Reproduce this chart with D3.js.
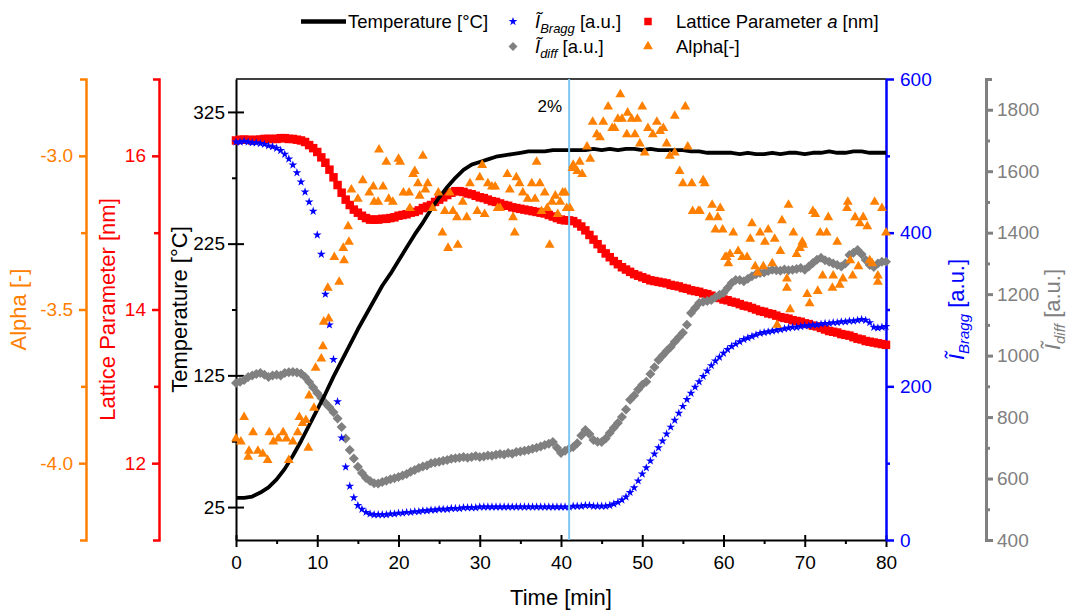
<!DOCTYPE html>
<html>
<head>
<meta charset="utf-8">
<script src="https://cdn.jsdelivr.net/npm/d3@7"></script>
<style>
  html, body { margin: 0; padding: 0; background: #fff; }
  svg { display: block; font-family: "Liberation Sans", Arial, sans-serif; }
</style>
</head>
<body>
<div id="chart"></div>
<script>
(function() {
  // temperature, one value per minute (0..80)
  const temperature = [
    32,32,33,36,40,46,54,64,75,87,
    99,111,124,136,148,160,171,182,193,202,
    212,222,232,241,251,260,268,275,281,285,
    287,289,291,292,293,294,295,295,295,296,
    296,296,296,296,297,296,297,296,297,297,
    296,297,296,296,296,296,295,295,294,294,
    294,294,293,294,293,293,294,293,294,294,
    293,294,294,295,294,294,295,295,294,294,
    294
  ];

  // the other series, one value every 0.5 min (0..80)
  const bragg = [
    518,518,519,518,517,517,516,515,513,512,
    510,507,502,496,488,478,466,453,440,428,
    397,372,320,280,235,180,133,95,70,55,
    45,40,36,34,33,33,33,33,34,34,
    35,35,36,36,37,37,38,38,39,39,
    40,40,40,41,41,41,42,42,42,42,
    43,43,43,43,43,43,43,43,43,43,
    43,43,43,43,43,43,43,43,43,43,
    43,43,43,44,44,44,45,45,44,44,
    44,44,45,47,49,52,56,62,68,77,
    86,94,103,112,120,129,138,147,156,165,
    174,183,191,199,206,213,220,227,233,238,
    243,248,252,255,258,261,263,265,267,269,
    270,271,272,273,274,275,276,277,277,278,
    279,279,280,280,281,282,282,283,283,284,
    284,285,285,286,287,286,283,277,276,277,
    278
  ];

  const diffuse = [
    911,915,921,930,935,940,943,938,930,935,
    938,935,943,946,947,945,942,930,914,896,
    878,862,846,832,816,795,768,730,693,665,
    638,618,602,592,585,584,589,593,598,601,
    605,610,615,622,628,634,639,642,650,652,
    655,658,660,664,666,668,670,668,670,673,
    670,672,675,674,677,680,678,683,681,686,
    688,690,693,697,700,704,709,713,719,700,
    683,690,697,703,715,740,758,745,725,720,
    719,730,748,765,781,800,825,856,870,890,
    905,915,940,962,986,1000,1015,1028,1045,1060,
    1074,1100,1139,1155,1171,1175,1178,1181,1190,1198,
    1204,1220,1236,1246,1246,1242,1250,1258,1265,1269,
    1270,1275,1279,1278,1276,1280,1278,1279,1282,1285,
    1279,1290,1301,1312,1318,1310,1305,1300,1295,1290,
    1300,1327,1335,1344,1330,1311,1295,1288,1300,1305,
    1305
  ];

  const lattice = [
    16.20,16.21,16.21,16.21,16.20,16.21,16.21,16.22,16.22,16.22,
    16.22,16.23,16.23,16.22,16.22,16.21,16.20,16.18,16.14,16.10,
    16.05,15.98,15.91,15.82,15.72,15.62,15.52,15.43,15.36,15.30,
    15.26,15.22,15.19,15.17,15.17,15.17,15.18,15.18,15.19,15.20,
    15.22,15.23,15.24,15.26,15.27,15.29,15.32,15.34,15.36,15.40,
    15.43,15.46,15.49,15.52,15.54,15.54,15.53,15.51,15.50,15.48,
    15.46,15.45,15.43,15.41,15.40,15.38,15.36,15.35,15.33,15.32,
    15.31,15.30,15.29,15.28,15.27,15.26,15.25,15.23,15.21,15.19,
    15.17,15.16,15.16,15.15,15.12,15.08,15.03,14.97,14.91,14.85,
    14.79,14.73,14.68,14.63,14.59,14.55,14.52,14.49,14.46,14.44,
    14.42,14.40,14.38,14.37,14.36,14.35,14.34,14.32,14.31,14.30,
    14.28,14.27,14.25,14.24,14.23,14.21,14.20,14.18,14.16,14.15,
    14.13,14.12,14.10,14.09,14.07,14.05,14.04,14.02,14.00,13.98,
    13.97,13.95,13.94,13.92,13.90,13.89,13.88,13.86,13.85,13.84,
    13.82,13.81,13.79,13.78,13.76,13.74,13.72,13.71,13.70,13.68,
    13.67,13.66,13.64,13.62,13.61,13.59,13.58,13.57,13.56,13.55,
    13.54
  ];

  // alpha is scattered, so [time, alpha] pairs
  const alphaPoints = [
    [0.0,-3.92],[0.6,-3.93],[1.0,-3.85],[1.5,-3.98],[1.6,-3.96],[2.1,-3.90],[2.7,-3.96],[3.3,-3.97],
    [3.9,-3.99],[4.1,-3.90],[4.6,-3.93],[5.2,-3.92],[5.8,-3.90],[6.2,-3.92],[6.5,-3.99],[7.0,-3.93],
    [7.6,-3.90],[7.8,-3.85],[8.2,-3.87],[8.6,-3.86],[8.9,-3.95],[9.0,-3.78],[9.6,-3.82],[9.8,-3.69],
    [10.5,-3.66],[10.7,-3.62],[10.8,-3.54],[11.3,-3.43],[11.4,-3.53],[12.1,-3.33],[12.7,-3.41],[13.2,-3.30],
    [13.3,-3.34],[13.8,-3.23],[13.9,-3.28],[14.2,-3.11],[15.0,-3.14],[15.6,-3.08],[16.4,-3.12],[16.9,-3.10],
    [17.0,-3.15],[17.5,-3.15],[17.6,-2.98],[18.1,-3.10],[18.5,-3.02],[18.8,-3.14],[19.3,-3.15],[20.0,-3.01],
    [20.2,-3.02],[20.6,-3.12],[21.3,-3.12],[21.4,-3.17],[21.8,-3.06],[22.0,-3.05],[22.4,-3.09],[22.6,-3.13],
    [23.0,-3.00],[23.3,-3.11],[23.6,-3.09],[24.2,-3.17],[24.9,-3.12],[25.4,-3.25],[25.7,-3.18],[26.1,-3.30],
    [26.3,-3.12],[26.7,-3.18],[27.2,-3.20],[27.3,-3.29],[27.9,-3.15],[28.4,-3.20],[28.8,-3.09],[29.7,-3.18],
    [30.0,-3.07],[30.3,-3.03],[30.6,-3.19],[31.0,-3.09],[31.5,-3.10],[31.9,-3.10],[32.2,-3.17],[32.5,-3.17],
    [33.4,-3.06],[33.7,-3.11],[34.1,-3.20],[34.3,-3.25],[34.5,-3.07],[34.9,-3.09],[35.3,-3.12],[35.9,-3.14],
    [36.4,-3.09],[36.8,-3.14],[37.0,-3.02],[37.4,-3.09],[37.6,-3.18],[38.0,-3.12],[38.3,-3.17],[38.6,-3.29],
    [38.9,-3.15],[39.3,-3.13],[39.6,-3.19],[39.9,-3.15],[40.2,-3.12],[40.5,-3.12],[40.7,-3.17],[41.1,-3.17],
    [41.4,-3.04],[41.5,-3.03],[42.0,-3.05],[42.3,-3.02],[42.6,-3.06],[43.2,-2.97],[43.6,-3.01],[43.9,-2.89],
    [44.4,-2.93],[44.8,-2.94],[45.2,-2.89],[45.8,-2.84],[46.3,-2.91],[46.6,-2.91],[47.0,-2.88],[47.3,-2.80],
    [47.5,-2.88],[48.1,-2.93],[48.2,-2.86],[48.7,-2.88],[49.1,-2.93],[49.4,-2.88],[49.7,-2.96],[50.0,-2.84],
    [50.3,-2.99],[50.7,-2.91],[51.3,-2.93],[51.8,-2.89],[52.2,-2.92],[52.6,-2.91],[53.0,-2.96],[53.4,-3.00],
    [54.0,-2.87],[54.0,-2.99],[54.6,-3.05],[55.0,-3.09],[55.3,-2.84],[55.6,-2.97],[56.1,-3.09],[56.2,-3.18],
    [56.9,-3.18],[57.1,-3.18],[57.5,-3.08],[57.7,-3.09],[58.3,-3.20],[58.6,-3.16],[59.0,-3.24],[59.3,-3.20],
    [59.6,-3.17],[59.9,-3.24],[60.2,-3.33],[60.4,-3.33],[60.6,-3.35],[60.8,-3.32],[61.2,-3.25],[61.8,-3.31],
    [62.3,-3.33],[62.9,-3.33],[63.3,-3.27],[63.5,-3.22],[63.9,-3.36],[64.2,-3.38],[64.5,-3.25],[64.9,-3.36],
    [65.1,-3.28],[65.5,-3.24],[66.0,-3.35],[66.3,-3.27],[66.6,-3.55],[67.0,-3.31],[67.2,-3.21],[67.8,-3.40],
    [67.8,-3.43],[68.0,-3.16],[68.2,-3.50],[68.6,-3.25],[69.0,-3.32],[69.4,-3.30],[69.7,-3.28],[69.8,-3.29],
    [70.3,-3.45],[70.6,-3.48],[71.0,-3.18],[71.3,-3.19],[71.6,-3.44],[71.9,-3.25],[72.2,-3.39],[72.7,-3.25],
    [72.9,-3.20],[73.4,-3.43],[73.5,-3.39],[74.0,-3.28],[74.3,-3.42],[74.7,-3.40],[75.2,-3.17],[75.3,-3.15],
    [75.6,-3.34],[75.9,-3.39],[76.2,-3.20],[76.6,-3.36],[76.8,-3.22],[77.2,-3.20],[77.7,-3.23],[78.0,-3.34],
    [78.3,-3.35],[78.6,-3.15],[79.0,-3.39],[79.0,-3.41],[79.5,-3.17],[80.0,-3.25]
  ];

  const timeTicks = [0,10,20,30,40,50,60,70,80];
  const timeMinor = [5,15,25,35,45,55,65,75];
  const tempTicks = [25,125,225,325];
  const tempMinor = [75,175,275];
  const braggTicks = [0,200,400,600];
  const braggMinor = [100,300,500];
  const diffTicks = [400,600,800,1000,1200,1400,1600,1800];
  const diffMinor = [500,700,900,1100,1300,1500,1700];
  const latticeTicks = [12,14,16];
  const latticeMinor = [13,15];
  const alphaTicks = [-4.0,-3.5,-3.0];
  const alphaMinor = [-3.75,-3.25];
  const markerTime = 41;

  const seriesTimes = d3.range(0, 80.0001, 0.5);
  const tempTimes = d3.range(0, 80.0001, 1);

  const W = 1071, H = 610;
  const plot = {left: 236, right: 886, top: 79, bottom: 540};
  const orange = "#ff8000", red = "#ff0000", blue = "#0000ff", grey = "#808080";
  const intFmt = d3.format("d");

  const svg = d3.select("#chart").append("svg").attr("width", W).attr("height", H);

  const x = d3.scaleLinear().domain([0, 80]).range([plot.left, plot.right]);
  const yT = d3.scaleLinear().domain([0, 350]).range([plot.bottom, plot.top]);
  const yB = d3.scaleLinear().domain([0, 600]).range([plot.bottom, plot.top]);
  const yD = d3.scaleLinear().domain([400, 1900]).range([plot.bottom, plot.top]);
  const yL = d3.scaleLinear().domain([11, 17]).range([plot.bottom, plot.top]);
  const yA = d3.scaleLinear().domain([-4.25, -2.75]).range([plot.bottom, plot.top]);

  function drawAxis(gen, tx, ty, color, lw, keepDomain) {
    const g = svg.append("g").attr("transform", `translate(${tx},${ty})`).call(gen);
    g.attr("font-family", null).attr("font-size", null);
    if (keepDomain) {
      g.select(".domain").attr("stroke", color).attr("stroke-width", lw);
    } else {
      g.select(".domain").remove();
    }
    g.selectAll(".tick line").attr("stroke", color).attr("stroke-width", lw);
    g.selectAll(".tick text").attr("fill", color).style("font-size", "19px");
    return g;
  }

  // top frame
  svg.append("line")
     .attr("x1", plot.left).attr("x2", plot.right)
     .attr("y1", plot.top).attr("y2", plot.top)
     .attr("stroke", "#000").attr("stroke-width", 1.5);

  // time axis
  drawAxis(d3.axisBottom(x).tickValues(timeTicks).tickSize(7).tickSizeOuter(0).tickPadding(9).tickFormat(intFmt),
           0, plot.bottom, "#000", 2, true);
  drawAxis(d3.axisBottom(x).tickValues(timeTicks).tickSize(-5).tickFormat(""), 0, plot.bottom, "#000", 2, false);
  drawAxis(d3.axisBottom(x).tickValues(timeMinor).tickSize(4).tickFormat(""), 0, plot.bottom, "#000", 2, false);

  // temperature axis
  drawAxis(d3.axisLeft(yT).tickValues(tempTicks).tickSize(8).tickSizeOuter(0).tickPadding(3).tickFormat(intFmt),
           plot.left, 0, "#000", 2, true);
  drawAxis(d3.axisLeft(yT).tickValues(tempTicks).tickSize(-8).tickFormat(""), plot.left, 0, "#000", 2, false);
  drawAxis(d3.axisLeft(yT).tickValues(tempMinor).tickSize(4).tickFormat(""), plot.left, 0, "#000", 2, false);

  // lattice axis
  drawAxis(d3.axisLeft(yL).tickValues(latticeTicks).tickSize(7).tickSizeOuter(6).tickPadding(6).tickFormat(intFmt),
           159, 0, red, 2.5, true);
  drawAxis(d3.axisLeft(yL).tickValues(latticeMinor).tickSize(5).tickFormat(""), 159, 0, red, 2.5, false);

  // alpha axis
  drawAxis(d3.axisLeft(yA).tickValues(alphaTicks).tickSize(7).tickSizeOuter(6).tickPadding(6)
             .tickFormat(d => d.toFixed(1)), 86, 0, orange, 2.5, true);
  drawAxis(d3.axisLeft(yA).tickValues(alphaMinor).tickSize(5).tickFormat(""), 86, 0, orange, 2.5, false);

  // bragg axis
  drawAxis(d3.axisRight(yB).tickValues(braggTicks).tickSize(8).tickSizeOuter(0).tickPadding(6).tickFormat(intFmt),
           plot.right, 0, blue, 2.5, true);
  drawAxis(d3.axisRight(yB).tickValues(braggMinor).tickSize(4).tickFormat(""), plot.right, 0, blue, 2.5, false);

  // diffuse axis
  drawAxis(d3.axisRight(yD).tickValues(diffTicks).tickSize(7).tickSizeOuter(6).tickPadding(4).tickFormat(intFmt),
           986, 0, grey, 3, true);
  drawAxis(d3.axisRight(yD).tickValues(diffMinor).tickSize(4).tickFormat(""), 986, 0, grey, 3, false);

  // axis titles
  const midY = (plot.top + plot.bottom) / 2;
  function vTitle(xc, color) {
    return svg.append("text")
      .attr("transform", `translate(${xc},${midY}) rotate(-90)`)
      .attr("text-anchor", "middle")
      .attr("dy", "0.35em")
      .attr("fill", color)
      .style("font-size", "22px");
  }
  vTitle(18, orange).text("Alpha [-]");
  vTitle(107, red).text("Lattice Parameter [nm]");
  vTitle(179, "#000").text("Temperature [°C]");

  const tb = vTitle(956, blue);
  tb.append("tspan").attr("font-style", "italic").text("Ĩ");
  tb.append("tspan").attr("font-style", "italic").style("font-size", "15px").attr("dy", 5).text("Bragg");
  tb.append("tspan").attr("dy", -5).text(" [a.u.]");

  const td = vTitle(1052, grey);
  td.append("tspan").attr("font-style", "italic").text("Ĩ");
  td.append("tspan").attr("font-style", "italic").style("font-size", "15px").attr("dy", 5).text("diff");
  td.append("tspan").attr("dy", -5).text(" [a.u.]");

  svg.append("text")
     .attr("x", (plot.left + plot.right) / 2).attr("y", 605)
     .attr("text-anchor", "middle")
     .style("font-size", "22px")
     .text("Time [min]");

  // data
  const sq = d3.symbol().type(d3.symbolSquare);
  const markers = (data, yScale, pathD, color, cls, rot) => {
    svg.append("g").attr("class", cls)
       .selectAll("path")
       .data(data)
       .join("path")
       .attr("transform", d => `translate(${x(d[0])},${yScale(d[1])})` + (rot ? " rotate(45)" : ""))
       .attr("d", pathD)
       .attr("fill", color);
  };

  markers(seriesTimes.map((t, i) => [t, lattice[i]]), yL, sq.size(72)(), red, "lattice");
  markers(seriesTimes.map((t, i) => [t, diffuse[i]]), yD, sq.size(50)(), grey, "diff", true);
  markers(seriesTimes.map((t, i) => [t, bragg[i]]), yB, d3.symbol().type(d3.symbolStar).size(24)(), blue, "bragg");

  const line = d3.line().x(d => x(d[0])).y(d => yT(d[1]));
  svg.append("path")
     .datum(tempTimes.map((t, i) => [t, temperature[i]]))
     .attr("d", line)
     .attr("fill", "none")
     .attr("stroke", "#000")
     .attr("stroke-width", 3.8)
     .attr("stroke-linejoin", "round");

  svg.append("line")
     .attr("x1", x(markerTime)).attr("x2", x(markerTime))
     .attr("y1", plot.top).attr("y2", plot.bottom)
     .attr("stroke", "#7fc6f0").attr("stroke-width", 2);

  markers(alphaPoints, yA, d3.symbol().type(d3.symbolTriangle).size(42)(), orange, "alpha");

  svg.append("text")
     .attr("x", x(markerTime) - 7).attr("y", 112)
     .attr("text-anchor", "end")
     .style("font-size", "17px")
     .text("2%");

  // legend
  const lg = svg.append("g").style("font-size", "18.5px");
  const row1 = 28, row2 = 53, mid = -6.5;
  lg.append("line").attr("x1", 301).attr("x2", 346).attr("y1", row1 + mid).attr("y2", row1 + mid)
    .attr("stroke", "#000").attr("stroke-width", 4.5);
  lg.append("text").attr("x", 348).attr("y", row1).text("Temperature [°C]");

  lg.append("path").attr("transform", `translate(513,${row1 + mid})`)
    .attr("d", d3.symbol().type(d3.symbolStar).size(24)()).attr("fill", blue);
  const lb = lg.append("text").attr("x", 535).attr("y", row1);
  lb.append("tspan").attr("font-style", "italic").text("Ĩ");
  lb.append("tspan").attr("font-style", "italic").style("font-size", "13px").attr("dy", 5).text("Bragg");
  lb.append("tspan").attr("dy", -5).text(" [a.u.]");

  lg.append("path").attr("transform", `translate(648,${row1 + mid})`)
    .attr("d", sq.size(56)()).attr("fill", red);
  const ll = lg.append("text").attr("x", 676).attr("y", row1);
  ll.append("tspan").text("Lattice Parameter ");
  ll.append("tspan").attr("font-style", "italic").text("a");
  ll.append("tspan").text(" [nm]");

  lg.append("path").attr("transform", `translate(513,${row2 + mid}) rotate(45)`)
    .attr("d", sq.size(40)()).attr("fill", grey);
  const ld = lg.append("text").attr("x", 535).attr("y", row2);
  ld.append("tspan").attr("font-style", "italic").text("Ĩ");
  ld.append("tspan").attr("font-style", "italic").style("font-size", "13px").attr("dy", 5).text("diff");
  ld.append("tspan").attr("dy", -5).text(" [a.u.]");

  lg.append("path").attr("transform", `translate(648,${row2 + mid})`)
    .attr("d", d3.symbol().type(d3.symbolTriangle).size(42)()).attr("fill", orange);
  lg.append("text").attr("x", 676).attr("y", row2).text("Alpha[-]");
})();
</script>
</body>
</html>
